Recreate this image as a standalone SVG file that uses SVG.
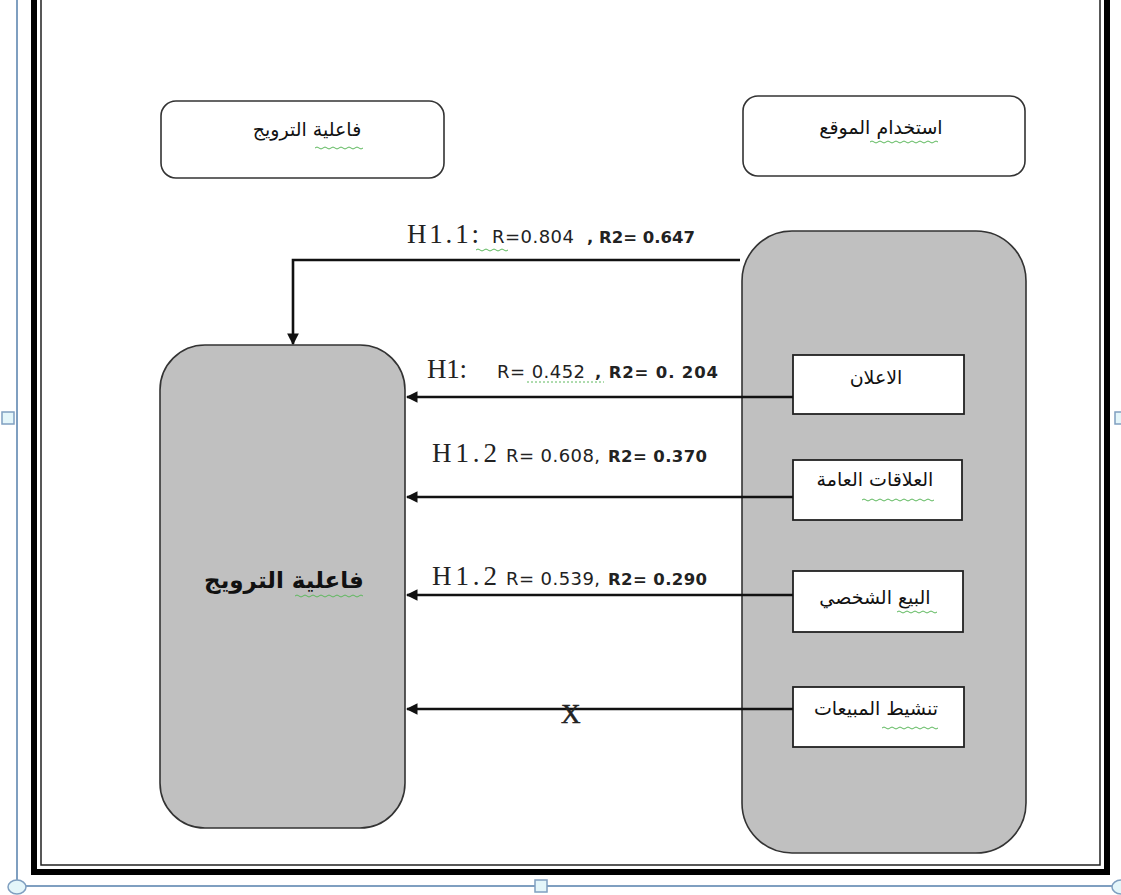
<svg xmlns="http://www.w3.org/2000/svg" width="1121" height="895" viewBox="0 0 1121 895">
<defs>
<style>
.box{fill:#fff;stroke:#333;stroke-width:1.6}
.gray{fill:#c0c0c0;stroke:#333;stroke-width:1.6}
.sbox{fill:#fff;stroke:#222;stroke-width:1.8}
.ar{font-family:"DejaVu Sans",sans-serif;font-size:19px;fill:#111;text-anchor:middle;direction:rtl}
.arb{font-family:"DejaVu Sans",sans-serif;font-size:23px;font-weight:bold;fill:#111;text-anchor:middle;direction:rtl}
.h{font-family:"Liberation Serif",serif;font-size:27px;fill:#222}
.r{font-family:"DejaVu Sans",sans-serif;font-size:18px;fill:#222}
.rb{font-family:"DejaVu Sans",sans-serif;font-size:16.5px;font-weight:bold;fill:#222}
.conn{fill:none;stroke:#111;stroke-width:2.6}
.sq{fill:none;stroke:#5cb85c;stroke-width:1}
.handle{fill:#e4f6fa;stroke:#7f9fc0;stroke-width:1.5}
</style>
<marker id="ah" viewBox="0 0 10 10" refX="9" refY="5" markerWidth="4.5" markerHeight="4.5" orient="auto" markerUnits="strokeWidth">
<path d="M0,0 L10,5 L0,10 z" fill="#111"/>
</marker>
</defs>
<rect width="1121" height="895" fill="#fff"/>
<g id="page">
<line x1="17" y1="0" x2="17" y2="886" stroke="#7f9fc0" stroke-width="2"/>
<line x1="17" y1="886" x2="1121" y2="886" stroke="#7f9fc0" stroke-width="2"/>
<polyline points="34,-5 34,872 1107,872 1107,-5" fill="none" stroke="#000" stroke-width="6"/>
<polyline points="41,-5 41,865 1100,865 1100,-5" fill="none" stroke="#222" stroke-width="1.5"/>
<ellipse class="handle" cx="17" cy="887" rx="9" ry="7"/>
<ellipse class="handle" cx="1121" cy="887" rx="9" ry="7"/>
<rect class="handle" x="535" y="880" width="12" height="12"/>
<rect class="handle" x="2" y="412" width="12" height="12"/>
<rect class="handle" x="1115" y="412" width="12" height="12"/>
</g>
<g id="top-left">
<rect class="box" x="161" y="101" width="283" height="77" rx="15"/>
<text class="ar" x="307" y="136">فاعلية الترويج</text>
<path class="sq" d="M315,148 q2,-2 4,0 t4,0 t4,0 t4,0 t4,0 t4,0 t4,0 t4,0 t4,0 t4,0 t4,0 t4,0"/>
</g>
<g id="top-right">
<rect class="box" x="743" y="96" width="282" height="80" rx="15"/>
<text class="ar" x="881" y="134">استخدام الموقع</text>
<path class="sq" d="M870,142 q2,-2 4,0 t4,0 t4,0 t4,0 t4,0 t4,0 t4,0 t4,0 t4,0 t4,0 t4,0 t4,0 t4,0 t4,0 t4,0 t4,0 t4,0"/>
</g>
<g id="left-main">
<rect class="gray" x="160" y="345" width="245" height="483" rx="45"/>
<text class="arb" x="284" y="588">فاعلية الترويج</text>
<path class="sq" d="M295,596 q2,-2 4,0 t4,0 t4,0 t4,0 t4,0 t4,0 t4,0 t4,0 t4,0 t4,0 t4,0 t4,0 t4,0 t4,0 t4,0 t4,0 t4,0"/>
</g>
<g id="right-main">
<rect class="gray" x="742" y="231" width="284" height="622" rx="50"/>
</g>
<g id="b1">
<rect class="sbox" x="793" y="355" width="171" height="59"/>
<text class="ar" x="876" y="384">الاعلان</text>
</g>
<g id="b2">
<rect class="sbox" x="793" y="460" width="169" height="60"/>
<text class="ar" x="875" y="486">العلاقات العامة</text>
<path class="sq" d="M862,500 q2,-2 4,0 t4,0 t4,0 t4,0 t4,0 t4,0 t4,0 t4,0 t4,0 t4,0 t4,0 t4,0 t4,0 t4,0 t4,0 t4,0 t4,0 t4,0"/>
</g>
<g id="b3">
<rect class="sbox" x="793" y="571" width="170" height="61"/>
<text class="ar" x="875" y="604">البيع الشخصي</text>
<path class="sq" d="M897,612 q2,-2 4,0 t4,0 t4,0 t4,0 t4,0 t4,0 t4,0 t4,0 t4,0 t4,0"/>
</g>
<g id="b4">
<rect class="sbox" x="793" y="687" width="171" height="60"/>
<text class="ar" x="876" y="715">تنشيط المبيعات</text>
<path class="sq" d="M882,728 q2,-2 4,0 t4,0 t4,0 t4,0 t4,0 t4,0 t4,0 t4,0 t4,0 t4,0 t4,0 t4,0 t4,0 t4,0"/>
</g>
<g id="connectors">
<polyline class="conn" points="740,260 293,260 293,344" marker-end="url(#ah)"/>
<line class="conn" x1="793" y1="397" x2="407" y2="397" marker-end="url(#ah)"/>
<line class="conn" x1="793" y1="497" x2="407" y2="497" marker-end="url(#ah)"/>
<line class="conn" x1="793" y1="595" x2="407" y2="595" marker-end="url(#ah)"/>
<line class="conn" x1="793" y1="709" x2="407" y2="709" marker-end="url(#ah)"/>
</g>
<g id="labels">
<text class="h" x="407" y="243" textLength="72">H1.1:</text>
<text class="r" x="492" y="243" textLength="82">R=0.804</text>
<text class="rb" x="587" y="243" textLength="108">, R2= 0.647</text>
<path class="sq" d="M476,250 q2,-2 4,0 t4,0 t4,0 t4,0 t4,0 t4,0 t4,0 t4,0"/>
<text class="h" x="427" y="378" textLength="40">H1:</text>
<text class="r" x="497" y="378" textLength="88">R= 0.452</text>
<text class="rb" x="595" y="378" textLength="123">, R2= 0. 204</text>
<line x1="527" y1="382" x2="604" y2="382" stroke="#5cb85c" stroke-width="1" stroke-dasharray="2,2"/>
<text class="h" x="432" y="462" textLength="65">H1.2</text>
<text class="r" x="506" y="462" textLength="94">R= 0.608,</text>
<text class="rb" x="608" y="462" textLength="99">R2= 0.370</text>
<text class="h" x="432" y="585" textLength="65">H1.2</text>
<text class="r" x="506" y="585" textLength="94">R= 0.539,</text>
<text class="rb" x="608" y="585" textLength="99">R2= 0.290</text>
<text class="h" x="561" y="723" font-size="33" stroke="#222" stroke-width="0.6">X</text>
</g>
</svg>
